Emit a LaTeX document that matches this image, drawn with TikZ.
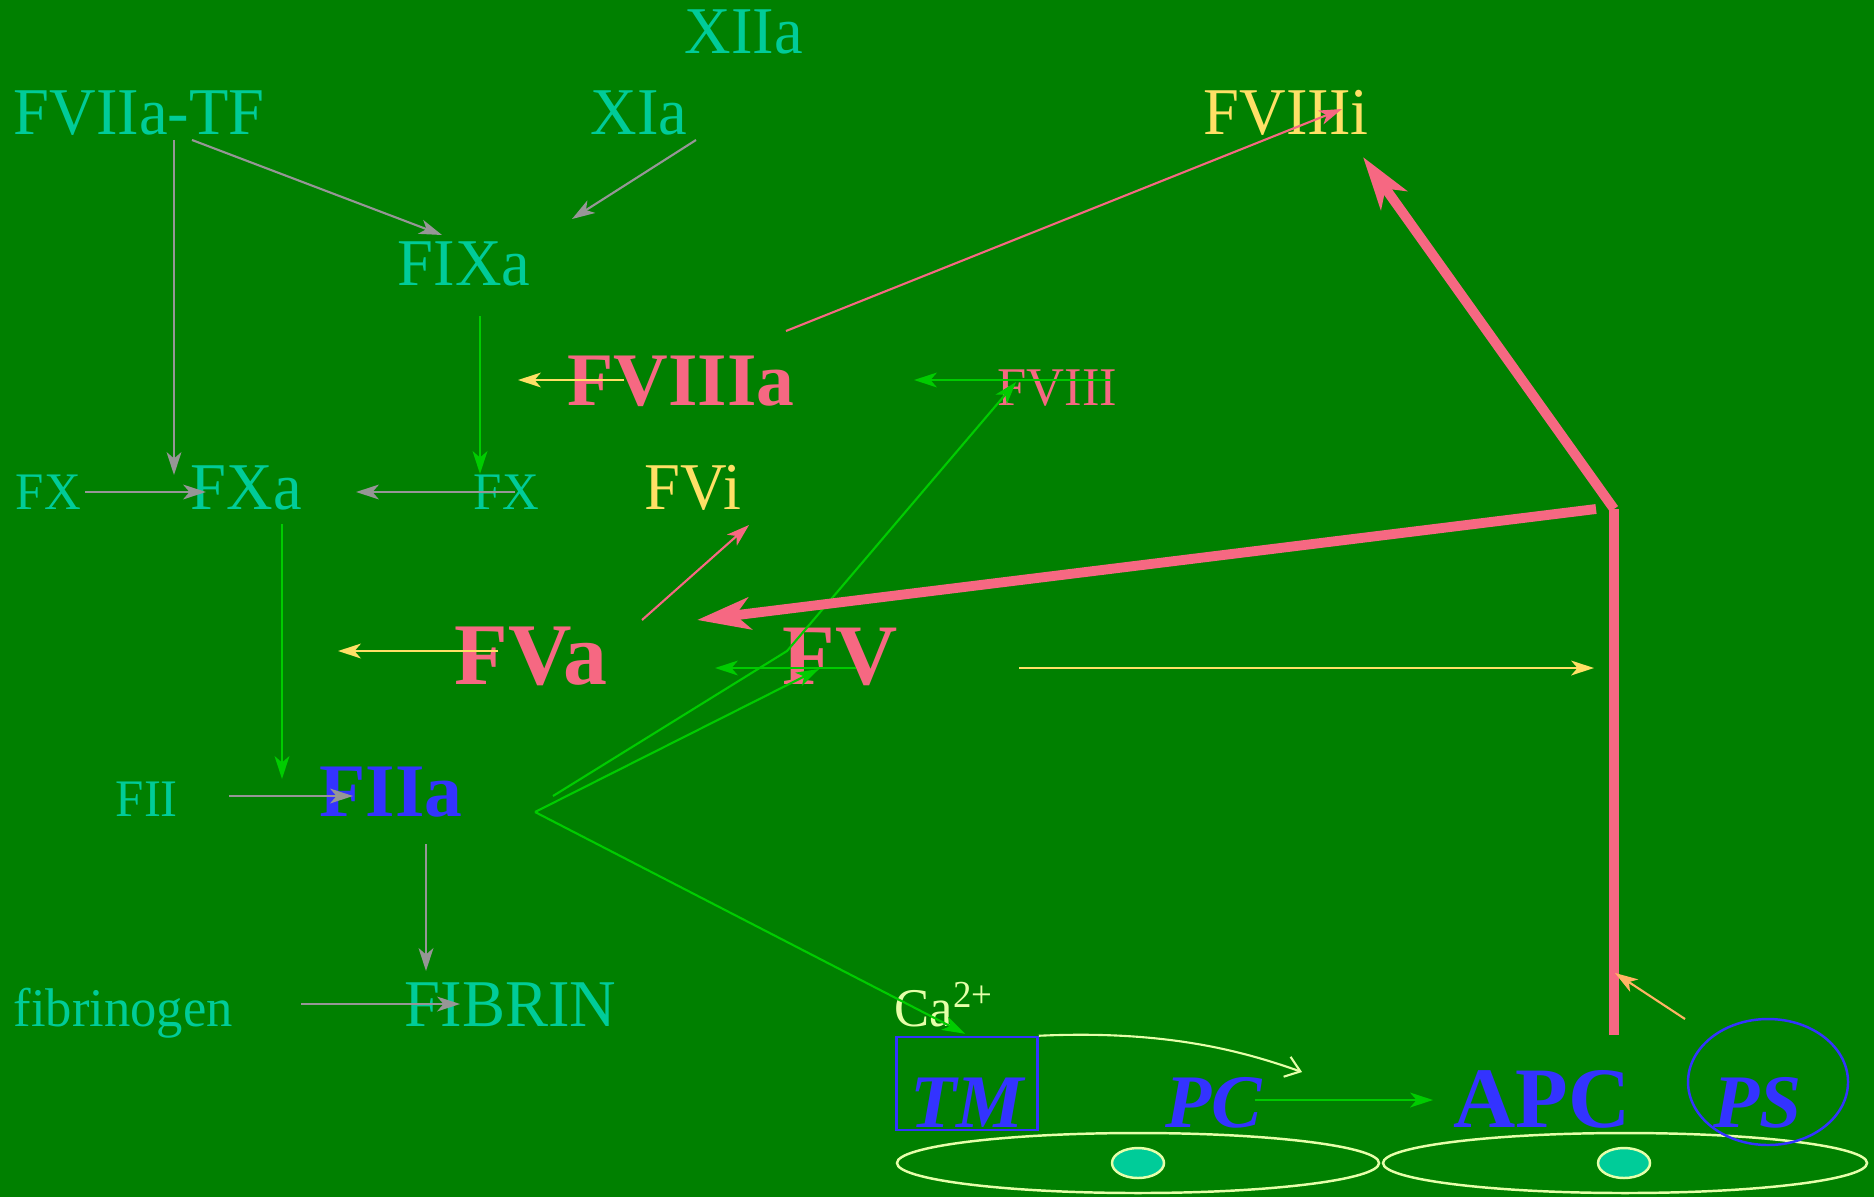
\documentclass[tikz,border=0pt]{standalone}
\usepackage{fontspec}
\setmainfont{Liberation Serif}
\newfontfamily\narrowserif{Liberation Serif}[FakeStretch=0.965]
\usetikzlibrary{
  arrows.meta,
  calc,
  positioning
}
\definecolor{slidegreen}{RGB}{0,128,0}
\definecolor{factorteal}{RGB}{0,204,153}
\definecolor{factorpink}{RGB}{246,104,130}
\definecolor{factoryellow}{RGB}{255,224,102}
\definecolor{factorblue}{RGB}{51,51,255}
\definecolor{arrowgray}{RGB}{150,150,150}
\definecolor{arrowgreen}{RGB}{0,204,0}
\definecolor{arroworange}{RGB}{255,180,100}
\definecolor{paleyellow}{RGB}{230,255,170}

\begin{document}
\begin{tikzpicture}[x=0.01cm, y=-0.01cm,
    fac/.style={anchor=base west, inner sep=0pt, text=factorteal, font=\narrowserif\fontsize{19}{21}\selectfont},
    minor/.style={fac, font=\narrowserif\fontsize{15}{17}\selectfont},
    active/.style={fac, text=factorpink, font=\fontsize{24.5}{27}\selectfont\bfseries},
    protc/.style={fac, text=factorblue, font=\fontsize{21.5}{24}\selectfont\bfseries\itshape},
    tmbox/.style={protc, anchor=base, draw=factorblue, line width=0.7pt, minimum width=1.41cm, text height=25.6pt, text depth=0.85pt},
    tiparr/.style={line width=0.6pt, -{Stealth[length=6.5pt, width=4.2pt, inset=1.8pt]}},
    grayarr/.style={tiparr, draw=arrowgray},
    greenarr/.style={tiparr, draw=arrowgreen},
    yelarr/.style={tiparr, draw=factoryellow},
    pinkarr/.style={tiparr, draw=factorpink},
    orangearr/.style={tiparr, draw=arroworange},
    thickline/.style={draw=factorpink, line width=2.8pt},
    thickarr/.style={thickline, -{Stealth[length=15pt, width=9pt, inset=4pt]}},
    membrane/.style={draw=paleyellow, line width=0.7pt}
  ]
  \fill[slidegreen] (0,0) rectangle (1874,1197);
  \useasboundingbox (0,0) rectangle (1874,1197);

  % factors
  \node[fac] (xiia) at (684,54) {XIIa};
  \node[fac] (fviiatf) at (13,134) {FVIIa-TF};
  \node[fac] (xia) at (590,134) {XIa};
  \node[fac, text=factoryellow] (fviiii) at (1203,134) {FVIIIi};
  \node[fac] (fixa) at (397,285) {FIXa};
  \node[active, font=\fontsize{21.5}{24}\selectfont\bfseries] (fviiia) at (567,405) {FVIIIa};
  \node[minor, text=factorpink, font=\narrowserif\fontsize{15.5}{17}\selectfont] (fviii) at (997,405) {FVIII};
  \node[minor] (fxl) at (15,509) {FX};
  \node[fac] (fxa) at (190,509) {FXa};
  \node[minor] (fxr) at (473,509) {FX};
  \node[fac, text=factoryellow] (fvi) at (644,509) {FVi};
  \node[active, font=\fontsize{25}{27}\selectfont\bfseries] (fva) at (454,684) {FVa};
  \node[active] (fv) at (782,684) {FV};
  \node[minor] (fii) at (115,816) {FII};
  \node[protc, font=\fontsize{21.5}{24}\selectfont\bfseries] (fiia) at (319,816) {FIIa};
  \node[minor, font=\narrowserif\fontsize{15.5}{17}\selectfont] (fibrinogen) at (13,1026) {fibrinogen};
  \node[fac] (fibrin) at (404,1026) {FIBRIN};
  \node[minor, text=paleyellow, font=\narrowserif\fontsize{15.5}{17}\selectfont] (ca) at (894,1026) {Ca\textsuperscript{2+}};
  \node[tmbox] (tm) at (967,1127) {TM};
  \node[protc] (pc) at (1165,1127) {PC};
  \node[protc, font=\fontsize{24.5}{27}\selectfont\bfseries] (apc) at (1453,1127) {APC};
  \node[protc] (ps) at (1713,1127) {PS};

  % cell surface
  \draw[membrane] (1138,1163) ellipse [x radius=241, y radius=30];
  \draw[membrane] (1625,1163) ellipse [x radius=242, y radius=30];
  \draw[membrane, fill=factorteal] (1138,1163) ellipse [x radius=26, y radius=15];
  \draw[membrane, fill=factorteal] (1624,1163) ellipse [x radius=26, y radius=15];
  \draw[draw=factorblue, line width=0.7pt] ($(ps.base west)+(55,-45)$) ellipse [x radius=80, y radius=63];

  % coagulation
  \draw[grayarr] ($(fviiatf.base west)+(161,6)$) -- ($(fxa.base west)+(-16,-34)$);
  \draw[grayarr] ($(fviiatf.base west)+(179,6)$) -- ($(fixa.base west)+(45,-50)$);
  \draw[grayarr] ($(xia.base west)+(106,6)$) -- ($(fixa.base west)+(175,-66)$);
  \draw[grayarr] ($(fxl.base west)+(70,-17)$) -- ($(fxa.base west)+(16,-17)$);
  \draw[grayarr] ($(fxr.base west)+(42,-17)$) -- ($(fxa.base west)+(166,-17)$);
  \draw[grayarr] ($(fii.base west)+(114,-20)$) -- ($(fiia.base west)+(34,-20)$);
  \draw[grayarr] ($(fiia.base west)+(107,28)$) -- ($(fibrin.base west)+(22,-55)$);
  \draw[grayarr] ($(fibrinogen.base west)+(288,-22)$) -- ($(fibrin.base west)+(56,-22)$);

  \draw[greenarr] ($(fixa.base west)+(83,31)$) -- ($(fxr.base west)+(7,-35)$);
  \draw[greenarr] ($(fxa.base west)+(92,15)$) -- ($(fiia.base west)+(-37,-37)$);
  \draw[greenarr] ($(fviii.base west)+(113,-25)$) -- ($(fviiia.base west)+(347,-25)$);
  \draw[greenarr] ($(fv.base west)+(74,-16)$) -- ($(fva.base west)+(261,-16)$);

  \draw[yelarr] ($(fviiia.base west)+(57,-25)$) -- ($(fviiia.base west)+(-49,-25)$);
  \draw[yelarr] ($(fva.base west)+(44,-33)$) -- ($(fva.base west)+(-116,-33)$);

  \draw[pinkarr] ($(fviiia.base west)+(219,-74)$) -- ($(fviiii.base west)+(139,-25)$);
  \draw[pinkarr] ($(fva.base west)+(188,-64)$) -- ($(fvi.base west)+(105,16)$);

  % thrombin activates
  \coordinate (fork) at ($(fiia.base west)+(216,-4)$);
  \draw[greenarr] ($(fiia.base west)+(234,-20)$) -- ($(fv.base west)+(5,-33)$) -- ($(fviii.base west)+(19,-23)$);
  \draw[greenarr] (fork) -- ($(fv.base west)+(37,-15)$);
  \draw[greenarr] (fork) -- ($(tm.north)+(-2,-2)$);

  % protein C pathway
  \draw[tiparr, draw=paleyellow, -{Straight Barb[length=4pt, width=6pt]}] (tm.north east) .. controls ($(tm.north east)+(130,-6)$) and ($(pc.base west)+(80,-75)$) .. ($(pc.base west)+(137,-55)$);
  \draw[greenarr] ($(pc.base west)+(90,-27)$) -- ($(apc.base west)+(-20,-27)$);
  \coordinate (apcup) at ($(apc.base west)+(161,-618)$);
  \draw[thickline] ($(apc.base west)+(161,-92)$) -- (apcup);
  \draw[thickarr] (apcup) -- ($(fviiii.base west)+(160,23)$);
  \draw[thickarr] ($(apcup)+(-18,0)$) -- ($(fva.base west)+(243,-64)$);
  \draw[yelarr] ($(fv.base west)+(237,-16)$) -- ($(apcup |- fv.base west)+(-20,-16)$);
  \draw[orangearr] ($(ps.base west)+(-28,-108)$) -- ($(apc.base west)+(162,-154)$);
\end{tikzpicture}
\end{document}
